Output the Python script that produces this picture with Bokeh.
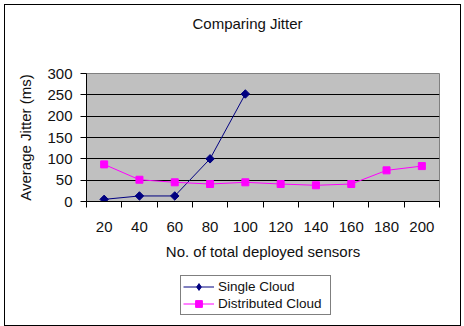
import math
from bokeh.plotting import figure
from bokeh.models import FixedTicker, Range1d, Legend, LegendItem, LinearAxis
from bokeh.layouts import column
from bokeh.embed import file_html
from bokeh.resources import INLINE

# ---- data ----
sensors = [20, 40, 60, 80, 100, 120, 140, 160, 180, 200]
single_sensors = [20, 40, 60, 80, 100]
single_cloud = [5, 13, 13, 100, 252]
distributed_cloud = [87, 51, 45, 41, 45, 41, 38, 41, 73, 83]
y_ticks = [0, 50, 100, 150, 200, 250, 300]
title_text = "Comparing Jitter"
x_label = "No. of total deployed sensors"
y_label = "Average Jitter (ms)"
series_names = ["Single Cloud", "Distributed Cloud"]

FONT = "Liberation Sans"
TXT = "#111111"
SINGLE_COLOR = "#000080"
DIST_COLOR = "#FF00FF"
DIAMOND = dict(marker="square", size=6, angle=math.pi / 4,
               fill_color=SINGLE_COLOR, line_color=SINGLE_COLOR)
LEGEND_DIAMOND = dict(marker="diamond", size=10,
                      fill_color=SINGLE_COLOR, line_color=SINGLE_COLOR)
SQUARE = dict(marker="square", size=7, fill_color=DIST_COLOR, line_color=DIST_COLOR)
half_band = (sensors[1] - sensors[0]) / 2
band_edges = [s - half_band for s in sensors] + [sensors[-1] + half_band]

p = figure(width=455, height=265,
           x_range=Range1d(band_edges[0], band_edges[-1]),
           y_range=Range1d(y_ticks[0], y_ticks[-1]),
           output_backend="svg", toolbar_location=None,
           title=title_text, x_axis_label=x_label, y_axis_label=y_label)
p.min_border_left = 81
p.min_border_right = 21
p.min_border_top = 68
p.min_border_bottom = 69
p.background_fill_color = "#C0C0C0"
p.border_fill_color = "white"
p.outline_line_color = "#808080"
p.outline_line_width = 1

# invisible spacer between the title and the plot area
spacer = LinearAxis(ticker=FixedTicker(ticks=[sensors[0]], minor_ticks=[]),
                    major_tick_out=42, major_tick_in=0, minor_tick_out=0,
                    major_tick_line_color=None, axis_line_color=None,
                    major_label_overrides={sensors[0]: ""},
                    major_label_text_font_size="1px", major_label_standoff=0)
p.add_layout(spacer, "above")

# title
p.title.text_font = FONT
p.title.text_font_size = "15px"
p.title.text_font_style = "normal"
p.title.text_color = TXT
p.title.align = "left"
p.title.offset = 106
p.title.standoff = 0

# grids
p.xgrid.visible = False
p.ygrid.ticker = FixedTicker(ticks=y_ticks[1:-1])
p.ygrid.grid_line_color = "black"
p.ygrid.grid_line_width = 1

# x axis
xa = p.below[0]
xa.ticker = FixedTicker(ticks=sensors, minor_ticks=band_edges)
xa.major_tick_out = 0
xa.major_tick_in = 0
xa.minor_tick_out = 6
xa.minor_tick_in = 0
xa.minor_tick_line_color = "black"
xa.axis_line_color = "black"
xa.major_label_text_font = FONT
xa.major_label_text_font_size = "15px"
xa.major_label_text_color = TXT
xa.major_label_standoff = 14
xa.axis_label_text_font = FONT
xa.axis_label_text_font_size = "15px"
xa.axis_label_text_font_style = "normal"
xa.axis_label_text_color = TXT
xa.axis_label_standoff = 8

# y axis
ya = p.left[0]
ya.ticker = FixedTicker(ticks=y_ticks, minor_ticks=[])
ya.major_tick_out = 6
ya.major_tick_in = 0
ya.major_tick_line_color = "black"
ya.axis_line_color = "black"
ya.major_label_text_font = FONT
ya.major_label_text_font_size = "15px"
ya.major_label_text_color = TXT
ya.major_label_standoff = 8
ya.axis_label_text_font = FONT
ya.axis_label_text_font_size = "15px"
ya.axis_label_text_font_style = "normal"
ya.axis_label_text_color = TXT
ya.axis_label_standoff = 10

# series
p.line(single_sensors, single_cloud, line_color=SINGLE_COLOR, line_width=1)
p.scatter(single_sensors, single_cloud, **DIAMOND)
p.line(sensors, distributed_cloud, line_color=DIST_COLOR, line_width=1)
p.scatter(sensors, distributed_cloud, **SQUARE)

# legend strip (separate canvas below the chart); its glyphs lie outside its view
lg = figure(width=455, height=55, output_backend="svg", toolbar_location=None,
            x_axis_type=None, y_axis_type=None,
            x_range=Range1d(0, 1), y_range=Range1d(-2, -1))
lg.min_border_left = lg.min_border_right = 0
lg.min_border_top = lg.min_border_bottom = 0
lg.outline_line_color = None
lg.background_fill_color = "white"
lg.border_fill_color = "white"
lg.xgrid.visible = False
lg.ygrid.visible = False
k1 = lg.line(single_sensors, single_cloud, line_color=SINGLE_COLOR, line_width=1)
m1 = lg.scatter(single_sensors, single_cloud, **LEGEND_DIAMOND)
k2 = lg.line(sensors, distributed_cloud, line_color=DIST_COLOR, line_width=1)
m2 = lg.scatter(sensors, distributed_cloud, **SQUARE)

legend = Legend(items=[LegendItem(label=series_names[0], renderers=[k1, m1]),
                       LegendItem(label=series_names[1], renderers=[k2, m2])],
                location=(94, 10))
legend.border_line_color = "black"
legend.border_line_width = 1
legend.background_fill_color = "white"
legend.background_fill_alpha = 1
legend.label_text_font = FONT
legend.label_text_font_size = "13.5px"
legend.label_text_color = TXT
legend.padding = 2
legend.spacing = 0
legend.margin = 0
legend.glyph_width = 31
legend.glyph_height = 17
legend.label_height = 17
legend.label_width = 110
legend.label_standoff = 4
lg.add_layout(legend)

layout = column(p, lg, spacing=0)
layout.styles = {"outline": "1px solid black", "margin-left": "5px", "margin-top": "5px"}

open("out.html", "w").write(file_html(layout, INLINE))
